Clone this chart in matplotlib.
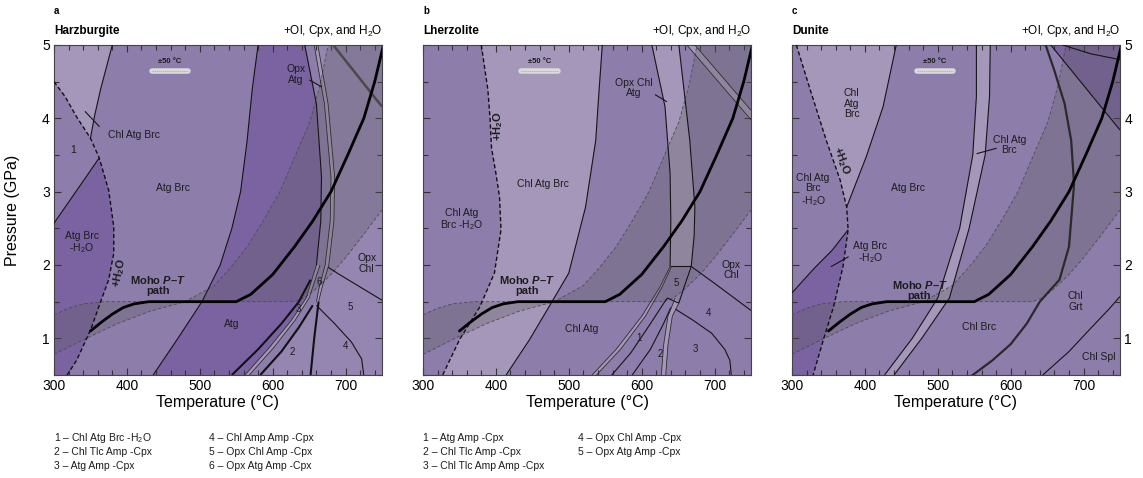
import matplotlib
matplotlib.use("Agg")
import matplotlib.pyplot as plt
from matplotlib.ticker import MultipleLocator

plt.rcParams.update({"font.family": ["Liberation Sans", "DejaVu Sans"], "font.size": 8,
    "mathtext.fontset": "custom", "mathtext.rm": "Liberation Sans",
    "mathtext.it": "Liberation Sans:italic", "mathtext.bf": "Liberation Sans:bold",
    "mathtext.bfit": "Liberation Sans:bold:italic"})

LIGHT = "#a597b9"; MID = "#8d7dab"; MIDL = "#9485b1"; DARK = "#7b63a1"
BANDC = "#5f5f5f"; INK = "#1c1c1c"

# ---- shared Moho P-T path and uncertainty envelope (T in degC, P in GPa)
PATH = [(350, 1.1), (365, 1.22), (380, 1.33), (395, 1.42), (410, 1.47), (430, 1.5), (550, 1.5),
        (570, 1.6), (600, 1.87), (630, 2.25), (655, 2.6), (680, 3.0), (703, 3.5), (725, 4.0),
        (740, 4.5), (752, 5.0)]
BAND_A = [(300, 0.78), (340, 0.98), (387, 1.2), (432, 1.37), (480, 1.5), (520, 1.72), (541, 1.95),
          (565, 2.25), (587, 2.6), (610, 3.0), (625, 3.35), (640, 3.7), (651, 3.95), (665, 4.45),
          (676, 5.0)]
BAND_B = [(300, 1.32), (320, 1.41), (340, 1.47), (370, 1.5), (630, 1.5), (645, 1.56), (660, 1.68),
          (680, 1.87), (700, 2.1), (725, 2.42), (750, 2.75)]
SCALE_T = [459, 460, 496]          # centre of the ±50 °C bar in each panel
SCALE_P = 4.64

# ---- panel a: harzburgite
A_H2O = [(300, 4.5), (315, 4.3), (331, 4.02), (350, 3.73), (362, 3.46), (375, 3.02), (382, 2.52),
         (382, 2.16), (375, 1.8), (364, 1.5), (350, 1.11), (331, 0.7), (318, 0.5)]
A_SOL1 = [(380, 5.0), (372, 4.7), (364, 4.4), (356, 4.05), (350, 3.73)]
A_SOL2 = [(300, 2.57), (330, 3.0), (362, 3.46)]
A_L1 = [(436, 0.5), (470, 1.0), (503, 1.5), (528, 2.0), (544, 2.5), (556, 3.0), (565, 3.7),
        (572, 4.4), (580, 5.0)]
A_C1 = [(644, 5.0), (660, 4.2), (667, 3.2), (666, 2.6), (660, 2.0)]
A_C2 = [(657, 5.0), (671, 4.2), (680, 3.2), (679, 2.6), (672, 2.0), (664, 1.7), (660, 1.5)]
A_C3 = [(662, 5.0), (676, 4.2), (685, 3.2), (684, 2.6), (677, 2.0), (668, 1.7), (663, 1.5)]
A_S1 = [(660, 2.0), (646, 1.55), (626, 1.25), (596, 0.88), (562, 0.5)]
A_S2 = [(665, 2.0), (650, 1.55), (631, 1.25), (602, 0.88), (568, 0.5)]
A_AB1 = [(544, 0.5), (580, 0.85), (612, 1.2), (636, 1.5), (652, 1.8)]
A_AB4 = [(583, 0.5), (612, 0.82), (636, 1.15), (655, 1.45)]
A_AB5 = [(663, 1.5), (657, 1.0), (652, 0.5)]
A_OPXCHL = [(676, 1.97), (690, 1.88), (720, 1.7), (750, 1.52)]
A_45 = [(660, 1.45), (685, 1.2), (708, 0.95), (722, 0.72), (725, 0.5)]
A_DIAG = [(683, 5.0), (750, 4.16)]

# ---- panel b: lherzolite
B_H2O = [(380, 5.0), (389, 4.39), (392, 4.0), (394, 3.6), (400, 3.25), (405, 2.93), (407, 2.48),
         (398, 1.89), (378, 1.43), (350, 0.98), (327, 0.5)]
B_SOL1 = [(546, 5.0), (541, 4.3), (537, 3.7), (523, 2.79), (500, 1.89), (477, 1.5), (446, 0.98),
          (414, 0.5)]
B_D1 = [(614, 5.0), (632, 4.16), (639, 3.25), (640, 2.6), (639, 1.98)]
B_D2 = [(651, 5.0), (666, 3.7), (673, 2.79), (672, 2.4), (668, 1.98)]
B_D2LOW = [(668, 1.98), (660, 1.75), (651, 1.48)]
B_TOP5 = [(639, 1.98), (668, 1.98)]
B_BOT5 = [(635, 1.55), (651, 1.48)]
B_OPXCHL = [(668, 1.98), (700, 1.75), (750, 1.38)]
B_DIAG1 = [(662, 5.0), (750, 3.98)]
B_DIAG2 = [(673, 5.0), (750, 4.11)]
B_S1 = [(532, 0.5), (565, 0.85), (600, 1.3), (625, 1.7), (639, 1.98)]
B_S2 = [(538, 0.5), (571, 0.85), (605, 1.3), (628, 1.7), (641, 1.98)]
B_S3 = [(559, 0.5), (585, 0.8), (612, 1.2), (635, 1.55)]
B_S4 = [(587, 0.5), (612, 0.85), (630, 1.2), (640, 1.42)]
B_V1 = [(627, 0.5), (630, 0.9), (636, 1.3), (646, 1.55)]
B_V2 = [(633, 0.5), (636, 0.9), (642, 1.3), (651, 1.48)]
B_43 = [(646, 1.4), (670, 1.25), (696, 1.07), (714, 0.85), (721, 0.7), (723, 0.5)]

# ---- panel c: dunite
C_H2O = [(306, 5.0), (325, 4.39), (347, 3.7), (366, 3.16), (375, 2.79), (377, 2.48), (370, 1.98),
         (357, 1.43), (343, 0.98), (329, 0.5)]
C_SOL1 = [(443, 5.0), (425, 4.16), (402, 3.48), (384, 3.02), (375, 2.79)]
C_SOL2 = [(300, 1.62), (330, 1.95), (355, 2.2), (377, 2.48)]
C_STRIP_L = [(427, 0.5), (465, 1.0), (500, 1.55), (530, 2.5), (548, 3.5), (553, 4.3), (553, 5.0)]
C_STRIP_R = [(440, 0.5), (478, 1.0), (516, 1.55), (543, 2.5), (565, 3.5), (571, 4.3), (572, 5.0)]
C_E1 = [(548, 0.5), (575, 0.7), (600, 0.92), (622, 1.2), (640, 1.5), (667, 1.8), (680, 2.25),
        (687, 3.1), (683, 3.7), (674, 4.2), (660, 4.65), (648, 5.0)]
C_SPL = [(644, 0.5), (680, 0.82), (712, 1.16), (735, 1.4), (750, 1.57)]
C_DIAG = [(655, 5.0), (700, 4.45), (750, 3.84)]
C_TOPC = [(671, 5.0), (710, 4.88), (750, 4.8)]

LEG_A = [["1 – Chl Atg Brc -H$_2$O", "2 – Chl Tlc Amp -Cpx", "3 – Atg Amp -Cpx"],
         ["4 – Chl Amp Amp -Cpx", "5 – Opx Chl Amp -Cpx", "6 – Opx Atg Amp -Cpx"]]
LEG_B = [["1 – Atg Amp -Cpx", "2 – Chl Tlc Amp -Cpx", "3 – Chl Tlc Amp Amp -Cpx"],
         ["4 – Opx Chl Amp -Cpx", "5 – Opx Atg Amp -Cpx"]]
LETTERS = ["a", "b", "c"]
ROCKS = ["Harzburgite", "Lherzolite", "Dunite"]


def T(pts): return [p[0] for p in pts]
def P(pts): return [p[1] for p in pts]


def poly(ax, pts, c, z=1):
    ax.fill(T(pts), P(pts), color=c, lw=0, zorder=z)


def line(ax, pts, kind="thin"):
    st = {"thin": dict(color="#151515", lw=0.8), "thick": dict(color="#111111", lw=1.5),
          "dbl": dict(color="#2e2e2e", lw=0.6), "h2o": dict(color="#111111", lw=1.0, ls=(0, (3, 1.8))),
          "gray": dict(color="#4a4a4a", lw=1.8)}[kind]
    ax.plot(T(pts), P(pts), zorder=3, solid_capstyle="butt", **st)


def lab(ax, t, p, s, **kw):
    kw.setdefault("fontsize", 7.5)
    ax.text(t, p, s, ha="center", va="center", color=INK, zorder=6, linespacing=1.05, **kw)


def leader(ax, a, b):
    ax.plot([a[0], b[0]], [a[1], b[1]], color="#151515", lw=0.8, zorder=5)


def common(ax, k):
    poly(ax, BAND_A + [(750, 5.0)] + BAND_B[::-1], BANDC, z=2)
    ax.patches[-1].set_alpha(0.3)
    for b in (BAND_A, BAND_B):
        ax.plot(T(b), P(b), color="#4d4d4d", lw=0.6, ls=(0, (4, 2.5)), zorder=3)
    ax.plot(T(PATH), P(PATH), color="black", lw=2.0, zorder=4, solid_capstyle="round")
    c = SCALE_T[k]
    ax.plot([c - 25, c + 25], [SCALE_P, SCALE_P], color="#dadada", lw=4, zorder=5,
            solid_capstyle="round")
    ax.plot([c - 25, c + 25], [SCALE_P, SCALE_P], color="#a5a5a5", lw=0.5, ls=(0, (2, 1)), zorder=6)
    lab(ax, c, SCALE_P + 0.13, "±50 °C", fontsize=5.5, fontweight="bold")
    lab(ax, 443 if k < 2 else 475, 1.73 if k < 2 else 1.66,
        "Moho $\\mathbfit{P}$–$\\mathbfit{T}$\npath", fontweight="bold", fontsize=8)
    ax.set_xlim(300, 750); ax.set_ylim(0.5, 5)
    ax.xaxis.set_major_locator(MultipleLocator(100)); ax.xaxis.set_minor_locator(MultipleLocator(20))
    ax.yaxis.set_major_locator(MultipleLocator(1)); ax.yaxis.set_minor_locator(MultipleLocator(0.5))
    ax.tick_params(which="both", direction="in", top=True, right=True, width=0.8, color="#333333",
                   labelsize=10)
    ax.tick_params(which="major", length=5, pad=3)
    ax.tick_params(which="minor", length=3.5)
    for s in ax.spines.values():
        s.set_linewidth(0.8); s.set_color("#444444")
    ax.set_xlabel("Temperature (°C)", fontsize=11.5, labelpad=1)
    ax.text(0, 1.103, LETTERS[k], transform=ax.transAxes, fontsize=7, fontweight="bold", va="center")
    ax.text(0, 1.043, ROCKS[k], transform=ax.transAxes, fontsize=8.5, fontweight="bold", va="center")
    ax.text(1, 1.043, "+Ol, Cpx, and H$_2$O", transform=ax.transAxes, fontsize=8.5, va="center",
            ha="right")


fig = plt.figure(figsize=(11.43, 4.78), dpi=100)
W, H = 1143, 478
axes = [fig.add_axes([x / W, 103 / H, 328 / W, 330 / H]) for x in (54, 423, 792)]

# ---------------- a
ax = axes[0]
ax.set_facecolor(MID)
poly(ax, A_AB4 + A_C3[::-1] + [(750, 5.0), (750, 0.5)], MIDL)
poly(ax, [(300, 5.0)] + A_SOL1 + A_H2O[:3][::-1], LIGHT)
poly(ax, A_SOL2 + A_H2O[5:] + [(300, 0.5)], DARK)
poly(ax, A_L1 + A_C1 + A_S1, DARK)
poly(ax, A_S1 + A_S2[::-1], LIGHT)
poly(ax, A_C2 + A_C3[::-1], LIGHT)
common(ax, 0)
line(ax, A_H2O, "h2o")
for c in (A_SOL1, A_SOL2, A_L1, A_C1, A_OPXCHL, A_45):
    line(ax, c)
for c in (A_C2, A_C3, A_S1, A_S2):
    line(ax, c, "dbl")
for c in (A_AB1, A_AB4, A_AB5):
    line(ax, c, "thick")
line(ax, A_DIAG, "gray")
lab(ax, 326, 3.57, "1")
lab(ax, 410, 3.77, "Chl Atg Brc")
leader(ax, (343, 4.09), (362, 3.89))
lab(ax, 463, 3.05, "Atg Brc")
lab(ax, 338, 2.3, "Atg Brc\n-H$_2$O")
lab(ax, 389, 1.89, "$\\mathbf{+H_2O}$", rotation=78, fontsize=8)
lab(ax, 544, 1.2, "Atg")
lab(ax, 632, 4.6, "Opx\nAtg")
leader(ax, (651, 4.52), (667, 4.43))
lab(ax, 729, 2.02, "Opx\nChl")
for s, t, p in (("2", 627, 0.82), ("3", 635, 1.4), ("4", 700, 0.89), ("5", 707, 1.43),
                ("6", 664, 1.77)):
    lab(ax, t, p, s, fontsize=7)

# ---------------- b
ax = axes[1]
ax.set_facecolor(MID)
poly(ax, B_H2O + [(414, 0.5)] + B_SOL1[::-1], LIGHT)
poly(ax, B_D1 + B_D2[::-1], LIGHT)
poly(ax, B_S1 + B_S2[::-1], LIGHT)
poly(ax, B_V1 + B_V2[::-1], LIGHT)
poly(ax, B_DIAG1 + B_DIAG2[::-1], LIGHT)
common(ax, 1)
line(ax, B_H2O, "h2o")
for c in (B_SOL1, B_D1, B_D2, B_D2LOW, B_TOP5, B_BOT5, B_OPXCHL, B_43, B_S3, B_S4):
    line(ax, c)
for c in (B_S1, B_S2, B_V1, B_V2, B_DIAG1, B_DIAG2):
    line(ax, c, "dbl")
lab(ax, 353, 2.61, "Chl Atg\nBrc -H$_2$O")
lab(ax, 464, 3.11, "Chl Atg Brc")
lab(ax, 403, 3.89, "$\\mathbf{+H_2O}$", rotation=90, fontsize=8)
lab(ax, 518, 1.13, "Chl Atg")
lab(ax, 589, 4.41, "Opx Chl\nAtg")
leader(ax, (619, 4.32), (634, 4.23))
lab(ax, 723, 1.93, "Opx\nChl")
for s, t, p in (("1", 596, 1.0), ("2", 625, 0.79), ("3", 673, 0.86), ("4", 692, 1.34),
                ("5", 648, 1.75)):
    lab(ax, t, p, s, fontsize=7)

# ---------------- c
ax = axes[2]
ax.set_facecolor(MID)
poly(ax, C_H2O[:5] + C_SOL1[::-1], LIGHT)
poly(ax, C_SOL2 + C_H2O[5:] + [(300, 0.5)], DARK)
poly(ax, C_STRIP_L + C_STRIP_R[::-1], LIGHT)
poly(ax, C_DIAG + [(750, 5.0)], DARK)
common(ax, 2)
line(ax, C_H2O, "h2o")
for c in (C_SOL1, C_SOL2, C_STRIP_L, C_STRIP_R, C_SPL, C_DIAG, C_TOPC):
    line(ax, c)
ax.plot(T(C_E1), P(C_E1), color="#2a2a2a", lw=1.6, zorder=3)
lab(ax, 382, 4.2, "Chl\nAtg\nBrc")
lab(ax, 329, 3.02, "Chl Atg\nBrc\n-H$_2$O")
lab(ax, 368, 3.43, "$\\mathbf{+H_2O}$", rotation=-70, fontsize=8)
lab(ax, 459, 3.05, "Atg Brc")
lab(ax, 407, 2.16, "Atg Brc\n-H$_2$O")
leader(ax, (354, 1.98), (377, 2.11))
lab(ax, 598, 3.64, "Chl Atg\nBrc")
leader(ax, (554, 3.52), (580, 3.59))
lab(ax, 557, 1.16, "Chl Brc")
lab(ax, 689, 1.5, "Chl\nGrt")
lab(ax, 721, 0.75, "Chl Spl")

axes[1].tick_params(labelleft=False)
axes[2].tick_params(labelleft=False, labelright=True)
fig.text(13 / W, 1 - 210 / H, "Pressure (GPa)", rotation=90, fontsize=11.5, va="center", ha="center")

for x0, cols in ((54, LEG_A), (423, LEG_B)):
    for j, col in enumerate(cols):
        for i, s in enumerate(col):
            fig.text((x0 + 155 * j) / W, 1 - (438 + 14 * i) / H, s, fontsize=7.5, va="center",
                     color=INK)

fig.savefig("out.png", dpi=100)
